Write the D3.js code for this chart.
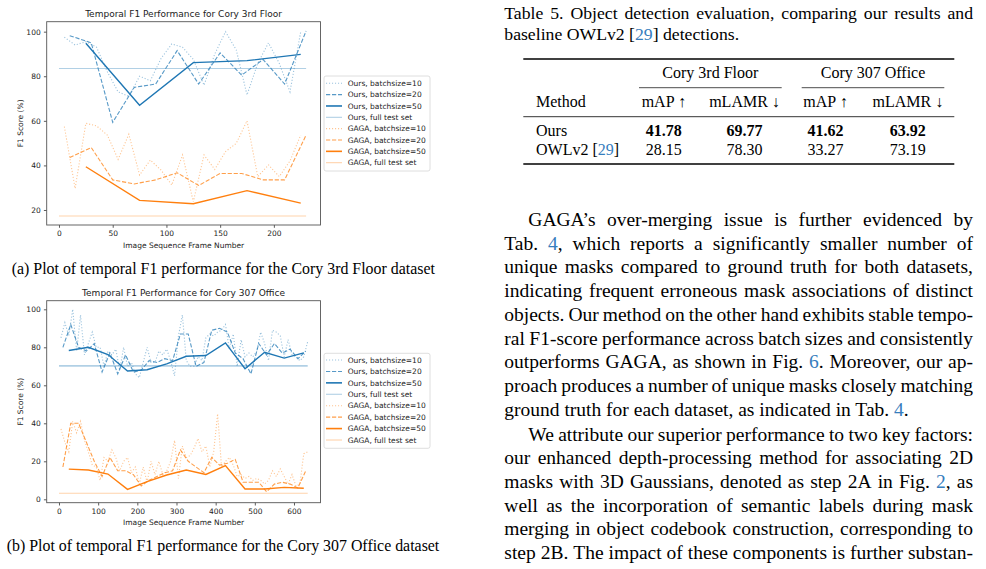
<!DOCTYPE html>
<html><head><meta charset="utf-8">
<script src="https://cdn.jsdelivr.net/npm/d3@7"></script>
<style>body{margin:0;background:#fff} svg{display:block}</style>
</head><body>
<svg id="s" width="986" height="569"></svg>
<script>
// ---------------- DATA ----------------
// Chart (a): Cory 3rd Floor
const f3_x10 = [5,15,25,35,45,55,65,75,85,95,105,115,125,135,145,155,165,175,185,195,205,215,225];
const f3_x20 = [10,30,50,70,90,110,130,150,170,190,210,230];
const f3_x50 = [25,75,125,175,225];
const f3_xfull = [0,230];
const f3_ours_bs10 = [97.5,94,95.5,93,82,73,71,80,78,88,94.5,93,87.6,76,90,100,91.8,71.6,85.8,95,85.8,73,100];
const f3_ours_bs20 = [98.2,95,59.3,75,76.5,91.5,76.5,90.5,80.5,87.5,76.5,100.3];
const f3_ours_bs50 = [94.8,67,86.1,87,89.8];
const f3_ours_full = [83.5,83.5];
const f3_gaga_bs10 = [57.4,29.7,58.9,57.7,53.6,42.7,54,35.7,42.4,37.9,31.2,44.7,23.7,44.7,38.2,46.2,49.9,60,35,40.2,35,42,53.6];
const f3_gaga_bs20 = [43.5,48,33.5,31.7,33.5,36.7,31,36.4,36.4,33.5,33.5,53.6];
const f3_gaga_bs50 = [39.4,24.3,22.8,28.7,23.1];
const f3_gaga_full = [17.3,17.3];
const f3_xticks = [0,50,100,150,200];
const f3_yticks = [20,40,60,80,100];

// Chart (b): Cory 307 Office
const o3_x10 = [5,15,25,35,45,55,65,75,85,95,105,115,125,135,145,155,165,175,185,195,205,215,225,235,245,255,265,275,285,295,305,315,325,335,345,355,365,375,385,395,405,415,425,435,445,455,465,475,485,495,505,515,525,535,545,555,565,575,585,595,605,615,625,635];
const o3_x20 = [10,30,50,70,90,110,130,150,170,190,210,230,250,270,290,310,330,350,370,390,410,430,450,470,490,510,530,550,570,590,610,630];
const o3_x50 = [25,75,125,175,225,275,325,375,425,475,525,575,625];
const o3_xfull = [0,635];
const o3_ours_bs10 = [85,93,86,100,78,97,76,82,88,80,80,70,78,76,79,68,80,70,72,66,64,72,80,72,72,78,76,79,73,65,86,97,73,70,70,75,73,85,87,86,88,89,92,79,87,70,84,75,77,75,78,88,82,73,89,88,86,75,84,76,75,73,75,83];
const o3_ours_bs20 = [80,92,80,78,82,67,77,66,76,67,68,73,72,74,73,87,87,70,72,89,90,88,77,74,66,82,76,82,77,79,74,78];
const o3_ours_bs50 = [78.3,80,76.2,67.5,68.2,71.3,75.3,75.7,82.3,68.7,77.4,74.3,77.1];
const o3_ours_full = [70.2,70.2];
const o3_gaga_bs10 = [37,30,25,41,35,41,31,25,18,17,10,22,20,26,22,15,20,22,14,17,8,17,9,20,13,20,13,15,20,31,11,28,22,23,27,32,25,28,17,25,45,17,20,22,18,12,13,11,12,10,11,10,8,10,15,12,16,12,8,13,7,8,24,25];
const o3_gaga_bs20 = [17,40,40,30,20,12,22,15,15,13,7,10,12,14,15,26,20,17,14,22,18,19,21,9,9,9,4,8,9,8,6,15];
const o3_gaga_bs50 = [15.9,15.4,13.3,5.2,9.3,12.8,15.4,13.1,17.7,5.4,5.4,6.3,5.8];
const o3_gaga_full = [3.2,3.2];
const o3_xticks = [0,100,200,300,400,500,600];
const o3_yticks = [0,20,40,60,80,100];

const legendLabels = ["Ours, batchsize=10","Ours, batchsize=20","Ours, batchsize=50","Ours, full test set",
                      "GAGA, batchsize=10","GAGA, batchsize=20","GAGA, batchsize=50","GAGA, full test set"];

// Table 5
const tblGroups = ["Cory 3rd Floor","Cory 307 Office"];
const tblCols = ["mAP ↑","mLAMR ↓","mAP ↑","mLAMR ↓"];
const tblMethods = ["Ours","OWLv2 [{29}]"];
const tblValues = [["41.78","69.77","41.62","63.92"],["28.15","78.30","33.27","73.19"]];

// Text
const tableCaption = ["Table 5. Object detection evaluation, comparing our results and",
                      "baseline OWLv2 [{29}] detections."];
const para1 = ["GAGA’s over-merging issue is further evidenced by",
  "Tab. {4}, which reports a significantly smaller number of",
  "unique masks compared to ground truth for both datasets,",
  "indicating frequent erroneous mask associations of distinct",
  "objects. Our method on the other hand exhibits stable tempo-",
  "ral F1-score performance across batch sizes and consistently",
  "outperforms GAGA, as shown in Fig. {6}. Moreover, our ap-",
  "proach produces a number of unique masks closely matching",
  "ground truth for each dataset, as indicated in Tab. {4}."];
const para2 = ["We attribute our superior performance to two key factors:",
  "our enhanced depth-processing method for associating 2D",
  "masks with 3D Gaussians, denoted as step 2A in Fig. {2}, as",
  "well as the incorporation of semantic labels during mask",
  "merging in object codebook construction, corresponding to",
  "step 2B. The impact of these components is further substan-"];
const capA = "(a) Plot of temporal F1 performance for the Cory 3rd Floor dataset";
const capB = "(b) Plot of temporal F1 performance for the Cory 307 Office dataset";

// ---------------- DRAWING ----------------
const svg = d3.select("#s");
const SANS = '"DejaVu Sans", sans-serif';
const SERIF = '"Liberation Serif","Times New Roman",serif';
const LINK = "#367dbd";
const BLUE = "#1f77b4", ORANGE = "#ff7f0e";

const styles = [
  {dash:"1.1,1.9", w:1.1, op:0.45},
  {dash:"4.2,1.8", w:1.1, op:0.75},
  {dash:null, w:1.4, op:1},
  {dash:null, w:1.1, op:0.35}
];

function drawChart(cfg){
  const g = svg.append("g");
  const x = d3.scaleLinear().domain(cfg.xd).range([cfg.l, cfg.r]);
  const y = d3.scaleLinear().domain(cfg.yd).range([cfg.b, cfg.t]);
  const line = d3.line().x(d=>x(d[0])).y(d=>y(d[1]));
  cfg.series.forEach((s,i)=>{
    const st = styles[i%4];
    const col = i<4 ? BLUE : ORANGE;
    g.append("path").datum(s.x.map((v,k)=>[v, s.y[k]]))
      .attr("d", line).attr("fill","none").attr("stroke", col)
      .attr("stroke-width", (i%4===3 && cfg.fullW) ? cfg.fullW[i<4?0:1] : st.w)
      .attr("stroke-opacity", st.op)
      .attr("stroke-dasharray", st.dash);
  });
  // axes
  const ax = g.append("g").attr("transform",`translate(0,${cfg.b})`)
    .call(d3.axisBottom(x).tickValues(cfg.xt).tickSize(2.8).tickPadding(3.2).tickFormat(d3.format("d")));
  const ay = g.append("g").attr("transform",`translate(${cfg.l},0)`)
    .call(d3.axisLeft(y).tickValues(cfg.yt).tickSize(2.8).tickPadding(3.2).tickFormat(d3.format("d")));
  [ax,ay].forEach(a=>{
    a.select(".domain").remove();
    a.selectAll("text").attr("font-family",SANS).attr("font-size",7.5).attr("fill","#222");
    a.selectAll("line").attr("stroke","#333").attr("stroke-width",0.8);
  });
  g.append("rect").attr("x",cfg.l).attr("y",cfg.t).attr("width",cfg.r-cfg.l).attr("height",cfg.b-cfg.t)
    .attr("fill","none").attr("stroke","#555").attr("stroke-width",0.9);
  // labels
  g.append("text").attr("x",(cfg.l+cfg.r)/2).attr("y",cfg.titleY).attr("text-anchor","middle")
    .attr("font-family",SANS).attr("font-size",9).attr("fill","#222").text(cfg.title);
  g.append("text").attr("x",(cfg.l+cfg.r)/2).attr("y",cfg.xlabY).attr("text-anchor","middle")
    .attr("font-family",SANS).attr("font-size",7.5).attr("fill","#222").text("Image Sequence Frame Number");
  g.append("text").attr("transform",`translate(23.4,${(cfg.t+cfg.b)/2}) rotate(-90)`).attr("text-anchor","middle")
    .attr("font-family",SANS).attr("font-size",7.5).attr("fill","#222").text("F1 Score (%)");
  // legend
  const L = cfg.legend;
  const lg = g.append("g");
  lg.append("rect").attr("x",L.x).attr("y",L.y).attr("width",L.w).attr("height",L.h).attr("rx",2)
    .attr("fill","#fff").attr("stroke","#d6d6d6").attr("stroke-width",0.8);
  legendLabels.forEach((lab,i)=>{
    const st = styles[i%4];
    const col = i<4 ? BLUE : ORANGE;
    const yy = L.row0 + i*L.step;
    lg.append("line").attr("x1",L.x+2).attr("x2",L.x+18).attr("y1",yy).attr("y2",yy)
      .attr("stroke",col).attr("stroke-opacity",st.op).attr("stroke-width", i%4===2 ? 1.6 : st.w)
      .attr("stroke-dasharray",st.dash);
    lg.append("text").attr("x",L.x+23.7).attr("y",yy+2.7).attr("font-family",SANS).attr("font-size",7.5)
      .attr("fill","#222").text(lab);
  });
}

drawChart({l:46.7, r:320.5, t:21.7, b:225, xd:[-11.44,243.4], yd:[13.27,104.47],
  xt:f3_xticks, yt:f3_yticks, title:"Temporal F1 Performance for Cory 3rd Floor", titleY:17.3, xlabY:247.9,
  legend:{x:324, y:76, w:106, h:95, row0:83.3, step:11.34},
  series:[{x:f3_x10,y:f3_ours_bs10},{x:f3_x20,y:f3_ours_bs20},{x:f3_x50,y:f3_ours_bs50},{x:f3_xfull,y:f3_ours_full},
          {x:f3_x10,y:f3_gaga_bs10},{x:f3_x20,y:f3_gaga_bs20},{x:f3_x50,y:f3_gaga_bs50},{x:f3_xfull,y:f3_gaga_full}]});

drawChart({l:46.7, r:320.5, t:300.7, b:502.7, xd:[-31.4,667.7], yd:[-1.79,104.53],
  xt:o3_xticks, yt:o3_yticks, title:"Temporal F1 Performance for Cory 307 Office", titleY:296, xlabY:525.4,
  fullW:[1.8,1.1],
  legend:{x:324, y:353.3, w:106, h:95, row0:360, step:11.43},
  series:[{x:o3_x10,y:o3_ours_bs10},{x:o3_x20,y:o3_ours_bs20},{x:o3_x50,y:o3_ours_bs50},{x:o3_xfull,y:o3_ours_full},
          {x:o3_x10,y:o3_gaga_bs10},{x:o3_x20,y:o3_gaga_bs20},{x:o3_x50,y:o3_gaga_bs50},{x:o3_xfull,y:o3_gaga_full}]});

// ---------- text helpers ----------
function segs(s){ return s.split(/(\{[^}]*\})/).filter(t=>t.length)
  .map(t=> t[0]==="{" ? {t:t.slice(1,-1),link:true} : {t,link:false}); }
function fill(t, s){ segs(s).forEach(sg=> t.append("tspan").attr("fill", sg.link?LINK:"#000").text(sg.t)); }
function textLine(s, x, y, size, o={}){
  const g = svg.append("g");
  if(o.width==null){
    const t = g.append("text").attr("x",x).attr("y",y).attr("font-family",SERIF).attr("font-size",size)
      .attr("text-anchor",o.anchor||"start").attr("font-weight",o.weight||null);
    fill(t,s); return;
  }
  const words = s.split(" ");
  const nodes = words.map(w=>{ const t=g.append("text").attr("y",y).attr("font-family",SERIF).attr("font-size",size); fill(t,w); return t; });
  const ws = nodes.map(n=>n.node().getComputedTextLength());
  const gap = (o.width - d3.sum(ws))/(words.length-1);
  let cx = x;
  nodes.forEach((n,i)=>{ n.attr("x",cx); cx += ws[i]+gap; });
}

// figure captions
textLine(capA, 11.7, 274.2, 15.9);
textLine(capB, 6.7, 551.2, 15.9);

// table caption
const RX = 973;
textLine(tableCaption[0], 504.3, 19.2, 17.7, {width: RX-504.3});
textLine(tableCaption[1], 504.3, 40.2, 17.7);

// table
const TL = 523.3, TR = 954.3;
const colX = [663.8, 744.5, 825.5, 907.8];
const grpX = [[639,781.7],[801.7,944.3]];
const rules = svg.append("g");
[[59,1.3],[116.7,0.8],[164,1.3]].forEach(([yy,w])=> rules.append("line").attr("x1",TL).attr("x2",TR)
  .attr("y1",yy).attr("y2",yy).attr("stroke","#000").attr("stroke-width",w));
grpX.forEach((gx,i)=>{
  rules.append("line").attr("x1",gx[0]).attr("x2",gx[1]).attr("y1",87.7).attr("y2",87.7).attr("stroke","#000").attr("stroke-width",0.7);
  textLine(tblGroups[i], (gx[0]+gx[1])/2, 78, 16, {anchor:"middle"});
});
textLine("Method", 536, 107, 16);
tblCols.forEach((c,i)=> textLine(c, colX[i], 107, 16, {anchor:"middle"}));
tblMethods.forEach((m,r)=>{
  const yy = 136.3 + r*19;
  textLine(m, 536, yy, 16);
  tblValues[r].forEach((v,i)=> textLine(v, colX[i], yy, 16, {anchor:"middle", weight: r===0?"bold":null}));
});

// body paragraphs
const BS = 19.5, LH = 23.7;
para1.forEach((ln,i)=>{
  const yy = 226 + i*LH;
  const indent = i===0 ? 24 : 0;
  const last = i===para1.length-1;
  textLine(ln, 504.3+indent, yy, BS, last ? {} : {width: RX-504.3-indent});
});
para2.forEach((ln,i)=>{
  const yy = 440.5 + i*LH;
  const indent = i===0 ? 24 : 0;
  textLine(ln, 504.3+indent, yy, BS, {width: RX-504.3-indent});
});
</script>
</body></html>
